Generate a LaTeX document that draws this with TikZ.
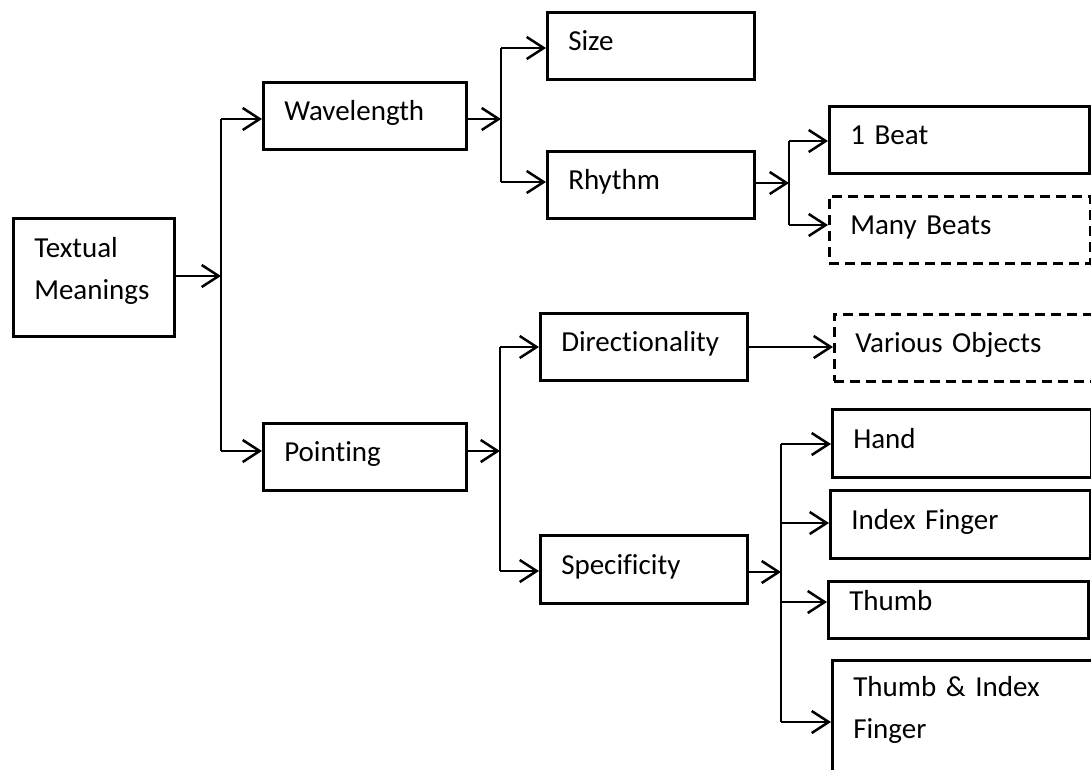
\documentclass[tikz,border=0pt]{standalone}
\usepackage{fontspec}
\setmainfont{Carlito}[Ligatures=NoCommon]
\usetikzlibrary{arrows.meta}

\begin{document}
\begin{tikzpicture}[
  x=1pt, y=-1pt,
  line width=2.5pt,
  font=\fontsize{29}{42}\selectfont,
  % rectangle with text set from its left side; #1 = width, #2 = height
  box/.style 2 args={draw, anchor=north west, inner xsep=21pt, inner ysep=0pt,
    align=left, text width=#1pt-42pt, minimum height=#2pt,
    text height=19pt, text depth=9pt},
  multibox/.style 2 args={draw, anchor=north west, inner xsep=21pt, inner ysep=0pt,
    align=left, text width=#1pt-42pt, minimum height=#2pt,
    text height=21pt, text depth=61pt},
  openbox/.style={dash pattern=on 10pt off 6pt},
  arr/.style={-{Straight Barb[length=17pt,width=22pt]}},
]
\useasboundingbox (0,0) rectangle (1091,769);

% boxes
\node[multibox={161}{118}] (tm) at (12,217) {Textual\\Meanings};
\node[box={203}{67}] (wave) at (262,81) {Wavelength};
\node[box={203}{67}] (point) at (262,422) {Pointing};
\node[box={207}{67}] (size) at (546,11) {Size};
\node[box={207}{67}] (rhythm) at (546,150) {Rhythm};
\node[box={260}{67}] (beat1) at (828,105) {1 Beat};
\node[box={261}{67}, openbox] (beats) at (828,195) {Many Beats};
\node[box={207}{67}] (dir) at (539,312) {Directionality};
\node[box={264}{67}, openbox] (various) at (833,313) {Various Objects};
\node[box={207}{68}] (spec) at (539,534) {Specificity};
\node[box={259}{68}] (hand) at (831,408) {Hand};
\node[box={260}{68}] (index) at (829,489) {Index Finger};
\node[box={260}{57}, text depth=17pt] (thumb) at (827,580) {Thumb};
\node[multibox={260}{112}] (thidx) at (831,659) {Thumb \& Index\\Finger};

% branching buses
\coordinate (b1t) at (221,119);  \coordinate (b1m) at (221,276);  \coordinate (b1b) at (221,451);
\coordinate (b2t) at (501,48);   \coordinate (b2m) at (501,119);  \coordinate (b2b) at (501,182);
\coordinate (b3t) at (789,141);  \coordinate (b3m) at (789,183);  \coordinate (b3b) at (789,225);
\coordinate (b4t) at (500,347);  \coordinate (b4m) at (500,451);  \coordinate (b4b) at (500,571);
\coordinate (b5t) at (781,444);  \coordinate (b5m) at (781,572);  \coordinate (b5b) at (781,722);
\coordinate (b5i) at (781,523);  \coordinate (b5h) at (781,602);

\draw (b1t) -- (b1b);
\draw (b2t) -- (b2b);
\draw (b3t) -- (b3b);
\draw (b4t) -- (b4b);
\draw (b5t) -- (b5b);

% Textual Meanings
\draw[arr] (tm.east |- b1m) -- (b1m);
\draw[arr] (b1t) -- (b1t -| wave.west);
\draw[arr] (b1b) -- (b1b -| point.west);

% Wavelength
\draw[arr] (wave.east |- b2m) -- (b2m);
\draw[arr] (b2t) -- (b2t -| size.west);
\draw[arr] (b2b) -- (b2b -| rhythm.west);

% Rhythm
\draw[arr] (rhythm.east |- b3m) -- (b3m);
\draw[arr] (b3t) -- (b3t -| beat1.west);
\draw[arr] (b3b) -- (b3b -| beats.west);

% Pointing
\draw[arr] (point.east |- b4m) -- (b4m);
\draw[arr] (b4t) -- (b4t -| dir.west);
\draw[arr] (b4b) -- (b4b -| spec.west);
\draw[arr] (dir.east |- b4t) -- (various.west |- b4t);

% Specificity
\draw[arr] (spec.east |- b5m) -- (b5m);
\draw[arr] (b5t) -- (b5t -| hand.west);
\draw[arr] (b5i) -- (b5i -| index.west);
\draw[arr] (b5h) -- (b5h -| thumb.west);
\draw[arr] (b5b) -- (b5b -| thidx.west);
\end{tikzpicture}
\end{document}
